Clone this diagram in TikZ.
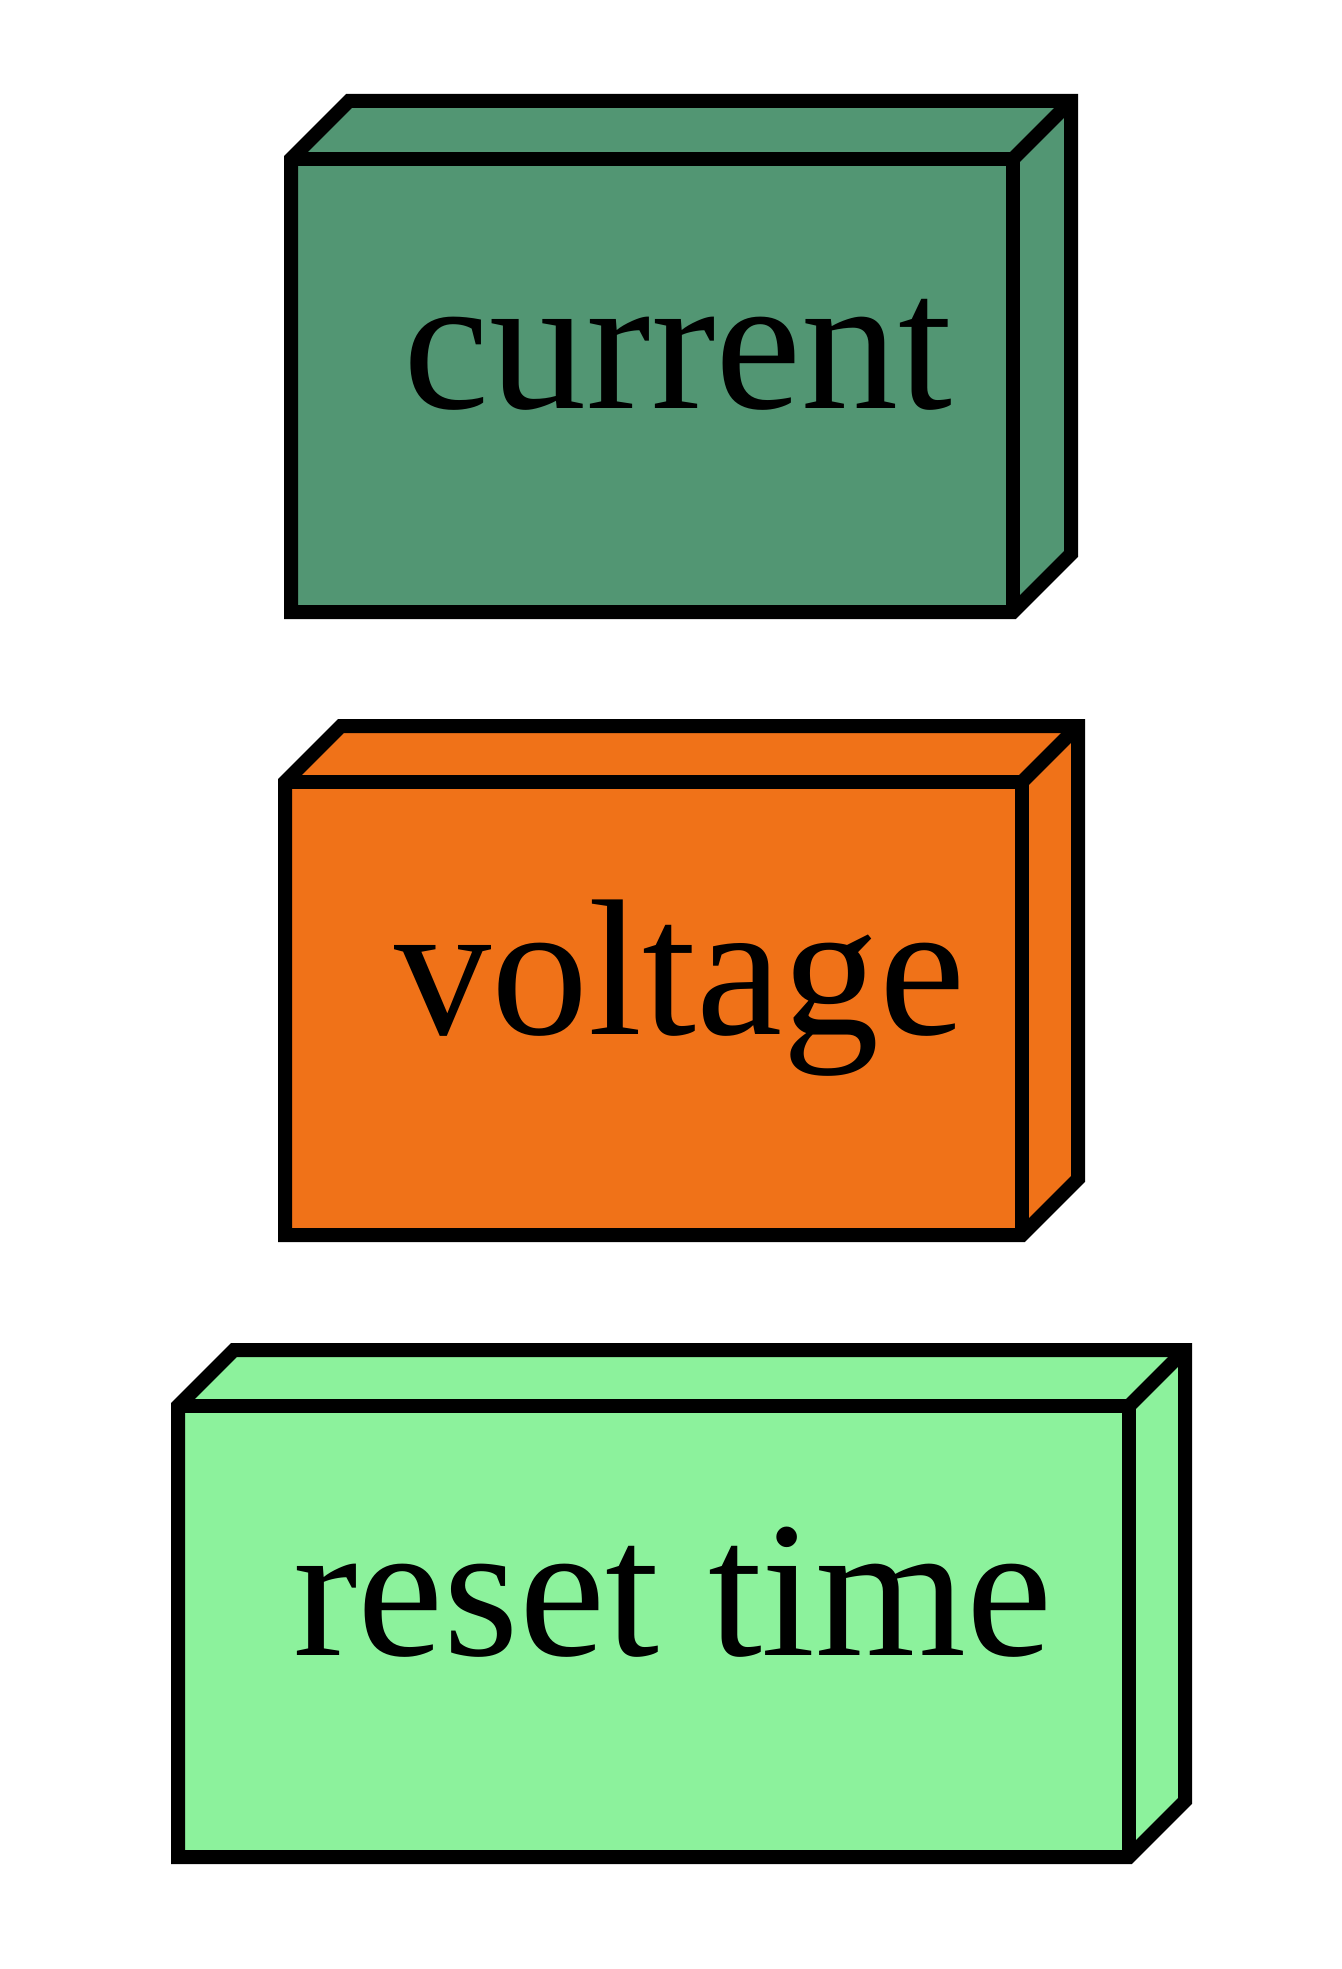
\documentclass[tikz,border=0pt]{standalone}
\usepackage{fontspec}
\setmainfont{Liberation Serif}
\definecolor{cgreen}{RGB}{82,150,115}
\definecolor{corange}{RGB}{240,114,24}
\definecolor{clgreen}{RGB}{140,242,156}
\tikzset{
  boxline/.style={draw=black, line width=14pt, line join=miter},
  lbl/.style={anchor=base, inner sep=0pt, font=\fontsize{194}{200}\selectfont}
}
\newcommand\tdbox[6]{% x1 y1 x2 y2 d color
  \fill[#6] (#1,#2) -- ({#1+#5},{#2-#5}) -- ({#3+#5},{#2-#5}) -- ({#3+#5},{#4-#5}) -- (#3,#4) -- (#1,#4) -- cycle;
  \draw[boxline] (#1,#2) -- ({#1+#5},{#2-#5}) -- ({#3+#5},{#2-#5}) -- ({#3+#5},{#4-#5}) -- (#3,#4) -- (#1,#4) -- cycle;
  \draw[boxline] (#1,#2) -- (#3,#2) -- (#3,#4);
  \draw[boxline] (#3,#2) -- ({#3+#5},{#2-#5});
}
\begin{document}
\begin{tikzpicture}[x=1pt,y=-1pt]
\useasboundingbox[fill=white] (0,0) rectangle (1341,1969);
\tdbox{291}{159}{1013}{612}{58}{cgreen}
\node[lbl] (current) at (678,408) {current};
\tdbox{285}{782}{1022}{1235}{56}{corange}
\node[lbl] (voltage) at (680,1034) {voltage};
\tdbox{178}{1406}{1129}{1857}{56}{clgreen}
\node[lbl] (reset) at (673,1655) {reset time};
\end{tikzpicture}
\end{document}
